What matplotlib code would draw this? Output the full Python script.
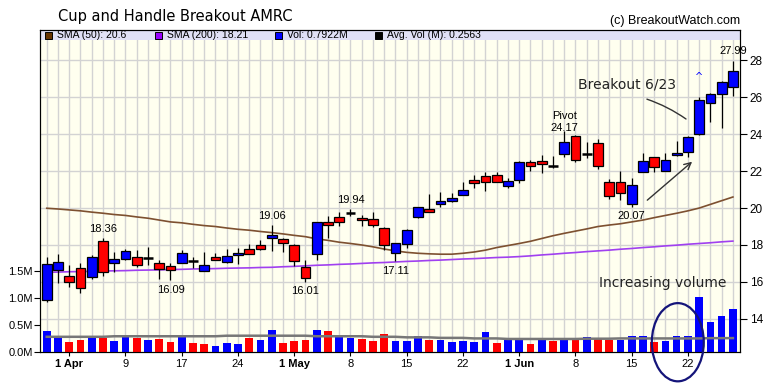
import matplotlib
matplotlib.use('Agg')
import matplotlib.pyplot as plt
from matplotlib.patches import Rectangle, Ellipse

# daily prices, 31 Mar .. 26 Jun (trading days)
opens = [15.02, 16.64, 16.34, 16.74, 16.28, 18.20, 17.01, 17.22, 17.37, 17.31,
         17.01, 16.84, 17.01, 17.11, 16.61, 17.33, 17.10, 17.44, 17.77, 18.02,
         18.36, 18.32, 18.00, 16.82, 17.49, 19.23, 19.50, 19.75, 19.45, 19.39,
         18.90, 17.55, 18.04, 19.54, 19.95, 20.24, 20.40, 20.69, 21.52, 21.74,
         21.79, 21.20, 21.52, 22.52, 22.55, 22.28, 22.91, 23.91, 22.91, 23.51,
         21.40, 21.40, 20.20, 21.94, 22.75, 22.03, 22.88, 23.06, 24.00, 25.68,
         26.17, 26.55]
highs = [17.33, 17.51, 16.92, 17.01, 17.46, 18.36, 17.64, 17.77, 17.73, 17.91,
         17.19, 17.01, 17.73, 17.37, 17.64, 17.58, 17.77, 17.82, 18.04, 18.27,
         19.06, 18.40, 18.05, 17.19, 19.25, 19.57, 19.77, 19.94, 19.63, 19.77,
         18.99, 18.09, 18.85, 20.04, 20.76, 20.85, 20.80, 21.43, 21.79, 21.97,
         21.94, 21.61, 22.55, 22.61, 22.88, 22.82, 24.17, 23.95, 23.60, 23.74,
         21.58, 22.01, 21.65, 22.97, 22.78, 22.97, 23.64, 23.91, 26.00, 26.22,
         26.89, 27.99]
lows = [14.89, 15.92, 15.74, 15.42, 16.14, 16.34, 16.52, 17.19, 16.79, 16.92,
        16.16, 16.09, 17.01, 16.74, 16.61, 17.19, 17.04, 16.99, 17.51, 17.73,
        17.69, 17.64, 16.86, 16.01, 17.19, 18.36, 19.03, 19.57, 19.03, 18.99,
        17.73, 17.11, 17.82, 19.45, 19.81, 20.08, 20.31, 20.69, 21.07, 20.94,
        21.40, 21.07, 21.34, 22.03, 21.92, 22.19, 22.79, 22.52, 22.70, 22.12,
        20.47, 20.44, 20.07, 21.94, 21.97, 22.03, 22.82, 22.79, 23.96, 24.69,
        24.32, 26.09]
closes = [16.95, 17.06, 15.98, 15.65, 17.37, 16.52, 17.24, 17.69, 16.90, 17.31,
          16.68, 16.63, 17.55, 17.11, 16.90, 17.17, 17.42, 17.57, 17.53, 17.77,
          18.52, 18.09, 17.13, 16.19, 19.23, 19.08, 19.25, 19.75, 19.34, 19.07,
          18.00, 18.09, 18.81, 20.04, 19.81, 20.38, 20.53, 20.98, 21.38, 21.40,
          21.40, 21.47, 22.48, 22.30, 22.39, 22.28, 23.56, 22.61, 22.91, 22.28,
          20.67, 20.80, 21.25, 22.55, 22.21, 22.61, 23.00, 23.84, 25.86, 26.17,
          26.83, 27.41]

# volume in millions, and whether the bar is an up day
volumes = [0.39, 0.26, 0.19, 0.23, 0.29, 0.26, 0.20, 0.29, 0.25, 0.22,
           0.24, 0.19, 0.29, 0.17, 0.15, 0.11, 0.17, 0.15, 0.26, 0.23,
           0.41, 0.16, 0.20, 0.22, 0.41, 0.39, 0.29, 0.26, 0.24, 0.20,
           0.33, 0.20, 0.20, 0.29, 0.22, 0.22, 0.18, 0.20, 0.18, 0.37,
           0.17, 0.23, 0.24, 0.15, 0.23, 0.21, 0.26, 0.24, 0.28, 0.24,
           0.23, 0.23, 0.30, 0.30, 0.19, 0.21, 0.30, 0.30, 1.01, 0.56,
           0.66, 0.7922]
vol_up = [1, 1, 0, 0, 1, 0, 1, 1, 0, 1,
          0, 0, 1, 0, 0, 1, 1, 1, 0, 1,
          1, 0, 0, 0, 1, 0, 1, 1, 0, 0,
          0, 1, 1, 1, 0, 1, 1, 1, 1, 1,
          0, 1, 1, 0, 1, 0, 1, 0, 1, 0,
          0, 1, 1, 1, 0, 1, 1, 1, 1, 1,
          1, 1]
avg_vol = [0.28, 0.28, 0.28, 0.28, 0.28, 0.28, 0.29, 0.29, 0.29, 0.29,
           0.29, 0.29, 0.29, 0.29, 0.29, 0.29, 0.30, 0.30, 0.30, 0.30,
           0.30, 0.30, 0.30, 0.30, 0.29, 0.29, 0.29, 0.29, 0.29, 0.28,
           0.28, 0.28, 0.27, 0.27, 0.27, 0.26, 0.26, 0.26, 0.25, 0.25,
           0.25, 0.24, 0.24, 0.24, 0.24, 0.24, 0.24, 0.24, 0.245, 0.245,
           0.245, 0.25, 0.25, 0.25, 0.25, 0.25, 0.25, 0.25, 0.25, 0.255,
           0.255, 0.256]

sma50 = [19.99, 19.95, 19.90, 19.85, 19.78, 19.72, 19.65, 19.60, 19.52, 19.45,
         19.35, 19.25, 19.20, 19.12, 19.05, 19.00, 18.92, 18.85, 18.80, 18.73,
         18.67, 18.60, 18.52, 18.45, 18.33, 18.25, 18.15, 18.08, 18.00, 17.90,
         17.78, 17.68, 17.60, 17.55, 17.52, 17.50, 17.50, 17.55, 17.62, 17.72,
         17.86, 17.97, 18.08, 18.20, 18.35, 18.50, 18.63, 18.75, 18.87, 19.00,
         19.08, 19.15, 19.25, 19.35, 19.48, 19.60, 19.72, 19.85, 20.00, 20.20,
         20.40, 20.60]
sma200 = [16.52, 16.53, 16.55, 16.56, 16.57, 16.59, 16.60, 16.61, 16.63, 16.64,
          16.65, 16.67, 16.68, 16.70, 16.71, 16.72, 16.74, 16.75, 16.76, 16.78,
          16.79, 16.82, 16.84, 16.87, 16.90, 16.92, 16.95, 16.97, 17.00, 17.03,
          17.05, 17.08, 17.11, 17.13, 17.16, 17.18, 17.21, 17.24, 17.26, 17.29,
          17.32, 17.34, 17.37, 17.41, 17.46, 17.50, 17.55, 17.59, 17.64, 17.68,
          17.72, 17.77, 17.81, 17.86, 17.90, 17.95, 17.99, 18.04, 18.08, 18.12,
          18.17, 18.21]

tick_pos = [2, 7, 12, 17, 22, 27, 32, 37, 42, 47, 52, 57]
tick_labels = ['1 Apr', '9', '17', '24', '1 May', '8', '15', '22', '1 Jun', '8', '15', '22']

# price labels: candle index, text, above/below
lab_idx = [5, 11, 20, 23, 27, 31, 46, 52, 61]
lab_text = ['18.36', '16.09', '19.06', '16.01', '19.94', '17.11', '24.17', '20.07', '27.99']
lab_high = [True, False, True, False, True, False, True, False, True]

n = len(opens)
idx = list(range(n))

fig = plt.figure(figsize=(7.8, 3.83), dpi=100)
ax = fig.add_axes([40/780, 31/383, 700/780, 322/383])
ax.set_facecolor('#ffffef')
ax2 = ax.twinx()

ax.set_xlim(-0.6, 61.63)
ax.set_ylim(12.2, 29.65)
ax2.set_ylim(0, 5.93)

ax.set_xticks(idx, minor=True)
ax.set_xticks(tick_pos)
ax.set_xticklabels(tick_labels)
ax.set_yticks(range(14, 29, 2))
ax.grid(True, which='both', axis='x', color='#d3d3d3', lw=1)
ax.grid(True, which='major', axis='y', color='#d3d3d3', lw=1)
ax.set_axisbelow(True)

ax.yaxis.tick_right()
ax2.yaxis.tick_left()
ax2.set_yticks([0, 0.5, 1.0, 1.5])
ax2.set_yticklabels(['0.0M', '0.5M', '1.0M', '1.5M'])

ax.tick_params(axis='x', which='major', length=3, labelsize=8, pad=2)
ax.tick_params(axis='x', which='minor', length=0)
ax.tick_params(axis='y', length=5, labelsize=8.5, pad=2)
ax2.tick_params(axis='y', length=4, labelsize=8, pad=1)
for lbl in ax.get_xticklabels() + ax.get_yticklabels() + ax2.get_yticklabels():
    lbl.set_family('Liberation Sans')
for lbl in ax.get_xticklabels():
    if ' ' in lbl.get_text():
        lbl.set_fontweight('bold')

# legend band
ax.add_patch(Rectangle((0, 1 - 10/322), 1, 10/322, transform=ax.transAxes,
                       facecolor='#e0e0f6', edgecolor='none', zorder=1))

# moving averages
ax.plot(idx, sma50, color='#7d5030', lw=1.2, zorder=2)
ax.plot(idx, sma200, color='#a040f0', lw=1.2, zorder=2)

# candles
ax.vlines(idx, lows, highs, color='black', lw=0.9, zorder=3)
for i in idx:
    o, c = opens[i], closes[i]
    if o == c:
        ax.hlines(c, i - 0.43, i + 0.43, color='black', lw=1.8, zorder=4)
    else:
        ax.bar(i, abs(c - o), bottom=min(o, c), width=0.86,
               color='#0000ff' if c > o else '#ff0000',
               edgecolor='black', lw=0.9, zorder=4)

# volume
ax2.bar(idx, volumes, width=0.68, color=['#0000ff' if u else '#ff0000' for u in vol_up], zorder=2)
ax2.plot(idx, avg_vol, color='#777777', lw=1.8, zorder=3)

for i, t, hi in zip(lab_idx, lab_text, lab_high):
    if t == '24.17':
        ax.annotate(t, (i, highs[i]), xytext=(0, 2.5), textcoords='offset points',
                    ha='center', va='center', fontsize=8, family='Liberation Sans')
        ax.annotate('Pivot', (i, highs[i]), xytext=(0, 11), textcoords='offset points',
                    ha='center', va='center', fontsize=8, family='Liberation Sans')
    elif hi:
        ax.annotate(t, (i, highs[i]), xytext=(0, 6.8), textcoords='offset points',
                    ha='center', va='center', fontsize=8, family='Liberation Sans')
    else:
        ax.annotate(t, (i, lows[i]), xytext=(0, -7), textcoords='offset points',
                    ha='center', va='center', fontsize=8, family='Liberation Sans')

# breakout marker
ax.annotate('^', (58, highs[58]), xytext=(0, 15), textcoords='offset points',
            ha='center', va='center', fontsize=7, color='#0000ff')

ax.text(51.6, 26.67, 'Breakout 6/23', ha='center', va='center', fontsize=10, color='#222222')
ax.annotate('', xy=(57.03, 24.74), xytext=(53.12, 25.95),
            arrowprops=dict(arrowstyle='-', color='#333333', lw=1,
                            connectionstyle='arc3,rad=-0.08'))
ax.annotate('', xy=(57.56, 22.61), xytext=(53.2, 20.33),
            arrowprops=dict(arrowstyle='->', color='#333333', lw=1, mutation_scale=12))
ax.text(54.74, 15.93, 'Increasing volume', ha='center', va='center', fontsize=10, color='#222222')
ax2.add_patch(Ellipse((56.1, 0.18), 4.62, 1.44, fill=False, edgecolor='#14147a',
                      lw=1.6, clip_on=False, zorder=5))

# legend entries
leg = [(45, '#663300', 'SMA (50): 20.6'), (155, '#9900ff', 'SMA (200): 18.21'),
       (275, '#0000ff', 'Vol: 0.7922M'), (375, '#000000', 'Avg. Vol (M): 0.2563')]
for px, col, txt in leg:
    ax2.add_patch(Rectangle(((px - 40)/700, (352 - 39)/322), 7/700, 7/322,
                            transform=ax.transAxes, facecolor=col, edgecolor='black',
                            lw=0.7, zorder=6, clip_on=False))
    ax2.text((px - 28)/700, (352 - 35.5)/322, txt, transform=ax.transAxes,
             ha='left', va='center', fontsize=7.5, family='Liberation Sans', zorder=6)

for sp in ax.spines.values():
    sp.set_color('black')

fig.text(58/780, 1 - 17/383, 'Cup and Handle Breakout AMRC', fontsize=10.5, va='center')
fig.text(740/780, 1 - 21/383, '(c) BreakoutWatch.com', ha='right', va='center',
         fontsize=9, family='Liberation Sans')

fig.savefig('out.png', dpi=100, facecolor='white')
